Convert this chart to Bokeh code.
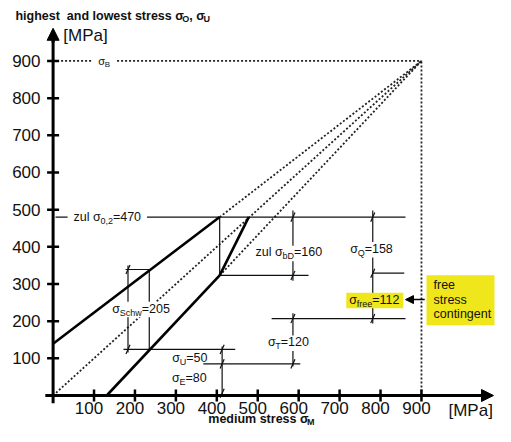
import math
from bokeh.plotting import figure
from bokeh.models import Range1d, Label, Arrow, NormalHead
from bokeh.embed import file_html
from bokeh.resources import INLINE

# ---------------- data ----------------
x_ticks = [100, 200, 300, 400, 500, 600, 700, 800, 900]
y_ticks = [100, 200, 300, 400, 500, 600, 700, 800, 900]
tick_labels = ["100", "200", "300", "400", "500", "600", "700", "800", "900"]

sigma_B = 900
upper_x = [0, 407]          # upper limit line (solid part)
upper_y = [139, 480]
lower_x = [131, 407]        # lower limit line (solid part)
lower_y = [0, 323]
slant_x = [407, 478]
slant_y = [323, 480]
yield_y = 480               # zul sigma_0,2 line as drawn

# thin horizontal reference / dimension lines
h_y = [480, 323, 329, 207, 339, 124, 85]
h_x0 = [6, 407, 781, 534, 177, 172, 367]
h_x1 = [861, 624, 858, 861, 235, 445, 604]

# thin vertical lines
v_x = [407, 235, 183, 586, 781, 586, 413]
v_y0 = [323, 124, 116, 309, 194, 78, 0]
v_y1 = [480, 339, 350, 498, 498, 221, 132]

# oblique dimension ticks
dt_x = [183, 183, 586, 586, 781, 781, 781, 586, 586, 413, 413, 413]
dt_y = [339, 124, 480, 323, 480, 329, 207, 207, 85, 124, 85, 6]

# ---------------- canvas mapping ----------------
W, H = 495, 426
x0, x1 = -128.5, 1080.9
y0, y1 = -83.4, 1062.7
sx = W / (x1 - x0)
sy = H / (y1 - y0)

FONT = "Liberation Sans"

REG = {' ': 278, '\u00a0': 278, ',': 278, '.': 278, '=': 584, '[': 278, ']': 278,
       'B': 667, 'D': 722, 'E': 667, 'M': 833, 'O': 778, 'P': 667, 'Q': 778,
       'S': 667, 'T': 611, 'U': 722,
       'a': 556, 'b': 556, 'c': 500, 'd': 556, 'e': 556, 'f': 278, 'g': 556,
       'h': 556, 'i': 222, 'l': 222, 'm': 833, 'n': 556, 'o': 556, 'r': 333,
       's': 500, 't': 278, 'u': 556, 'w': 722, 'z': 500, 'σ': 590}
BOLD = {' ': 278, '\u00a0': 278, ',': 278, 'M': 833, 'O': 778, 'U': 722, 'a': 556,
        'd': 611, 'e': 556, 'g': 611, 'h': 611, 'i': 278, 'l': 278, 'm': 889,
        'n': 611, 'o': 611, 'r': 389, 's': 556, 't': 333, 'u': 611, 'w': 778,
        'σ': 570}


def tw(s, size, bold):
    tab = BOLD if bold else REG
    return sum(tab.get(c, 556) for c in s) / 1000.0 * size


p = figure(width=W, height=H, x_range=Range1d(x0, x1), y_range=Range1d(y0, y1),
           x_axis_location=None, y_axis_location=None, toolbar_location=None,
           output_backend="svg", min_border=0, outline_line_color=None)
p.grid.grid_line_color = None
p.background_fill_color = "white"
p.border_fill_color = "white"

THICK = 2.6
THIN = 1.2
DOT = dict(line_dash="2 2", line_width=1.8, line_color="#222222")

# dotted lines: sigma_B frame and the three rays to (sigma_B, sigma_B)
p.line([0, sigma_B], [sigma_B, sigma_B], **DOT)
p.line([sigma_B, sigma_B], [0, sigma_B], **DOT)
p.line([0, sigma_B], [0, sigma_B], **DOT)
p.line([upper_x[-1], sigma_B], [upper_y[-1], sigma_B], **DOT)
p.line([lower_x[-1], sigma_B], [lower_y[-1], sigma_B], **DOT)

# thin lines
p.segment(x0=h_x0, y0=h_y, x1=h_x1, y1=h_y, line_width=THIN, line_color="#111111")
p.segment(x0=v_x, y0=v_y0, x1=v_x, y1=v_y1, line_width=THIN, line_color="#111111")

# thick diagram lines
p.line(upper_x, upper_y, line_width=THICK, line_color="black")
p.line(lower_x, lower_y, line_width=THICK, line_color="black")
p.line(slant_x, slant_y, line_width=THICK, line_color="black")

# dimension ticks
p.scatter(x=dt_x, y=dt_y, marker="dash", size=10, angle=1.15,
          line_width=THIN, line_color="#111111")

# axes
p.segment(x0=[0], y0=[-21], x1=[0], y1=[975], line_width=3, line_color="black")
p.segment(x0=[-19], y0=[0], x1=[1060], y1=[0], line_width=3, line_color="black")
p.add_layout(Arrow(end=NormalHead(size=12, fill_color="black", line_color="black"),
                   x_start=0, y_start=950, x_end=0, y_end=988, line_width=3))
p.add_layout(Arrow(end=NormalHead(size=12, fill_color="black", line_color="black"),
                   x_start=1040, y_start=0, x_end=1076, y_end=0, line_width=3))
p.scatter(x=[0] * len(y_ticks), y=y_ticks, marker="dash", size=12, line_width=2.5,
          line_color="black")
p.scatter(x=x_ticks, y=[0] * len(x_ticks), marker="dash", size=12, angle=math.pi / 2,
          line_width=2.5, line_color="black")

p.text(x=[-12.6 / sx] * len(y_ticks), y=y_ticks, text=tick_labels, text_align="right",
       text_baseline="middle", text_font={"value": FONT}, text_font_size="17px",
       text_color="#111111")
p.text(x=[t - 5 / sx for t in x_ticks], y=[-12.5 / sy] * len(x_ticks), text=tick_labels,
       text_align="center", text_baseline="middle", text_font={"value": FONT},
       text_font_size="17px", text_color="#111111")


def rich(x, y, parts, size, bold=False, align="left", bg=None, pad=4, sub_dy=4):
    fs = [size * 0.72 if sub else size for _, sub in parts]
    ws = [tw(t, f, bold) for (t, _), f in zip(parts, fs)]
    total = sum(ws)
    if align == "left":
        start = x
    elif align == "center":
        start = x - total / 2 / sx
    else:
        start = x - total / sx
    if bg is not None:
        p.rect(x=[start + total / 2 / sx], y=[y - 1 / sy], width=[(total + 2 * pad) / sx],
               height=[(size + 3) / sy], fill_color=bg, line_color=None)
    cur = start
    for (t, sub), f, w in zip(parts, fs, ws):
        p.add_layout(Label(x=cur, y=(y - sub_dy / sy) if sub else y, text=t, text_font=FONT,
                           text_font_size=f"{f}px",
                           text_font_style="bold" if bold else "normal",
                           text_baseline="middle", text_align="left",
                           text_color="#111111"))
        cur += w / sx


# titles
rich(-92, 1022, [("highest\u00a0 and lowest stress σ", False), ("O", True), (", σ", False),
                 ("U", True)], 12.5, bold=True, sub_dy=3)
rich(509, -62, [("medium stress σ", False), ("M", True)], 12.5, bold=True, align="center",
     sub_dy=3)
rich(25, 968, [("[MPa]", False)], 17)
rich(966, -40, [("[MPa]", False)], 17)

# annotations
rich(125, sigma_B, [("σ", False), ("B", True)], 11, align="center", bg="white", pad=6)
rich(50, yield_y, [("zul σ", False), ("0,2", True), ("=470", False)], 12.5, bg="white",
     pad=6)
rich(576, 385, [("zul σ", False), ("bD", True), ("=160", False)], 12.5, align="center",
     bg="white", pad=3)
rich(778, 395, [("σ", False), ("Q", True), ("=158", False)], 12.5, align="center",
     bg="white", pad=3)
rich(215, 234, [("σ", False), ("Schw", True), ("=205", False)], 12.5, align="center",
     bg="white", pad=2)
rich(575, 143, [("σ", False), ("T", True), ("=120", False)], 12.5, align="center",
     bg="white", pad=3)
rich(377, 100, [("σ", False), ("U", True), ("=50", False)], 12.5, align="right")
rich(375, 46, [("σ", False), ("E", True), ("=80", False)], 12.5, align="right")
rich(786, 258, [("σ", False), ("free", True), ("=112", False)], 12.5, align="center",
     bg="#efe61c", pad=3)

# free stress contingent box
p.rect(x=[995.4], y=[256], width=[68 / sx], height=[50 / sy], fill_color="#efe61c",
       line_color=None)
for txt, yy in zip(["free", "stress", "contingent"], [298, 258, 218]):
    rich(929.4, yy, [(txt, False)], 12.5)
p.add_layout(Arrow(end=NormalHead(size=8, fill_color="black", line_color="black"),
                   x_start=908, y_start=258, x_end=861, y_end=258, line_width=1.5))

open("out.html", "w").write(file_html(p, INLINE))
